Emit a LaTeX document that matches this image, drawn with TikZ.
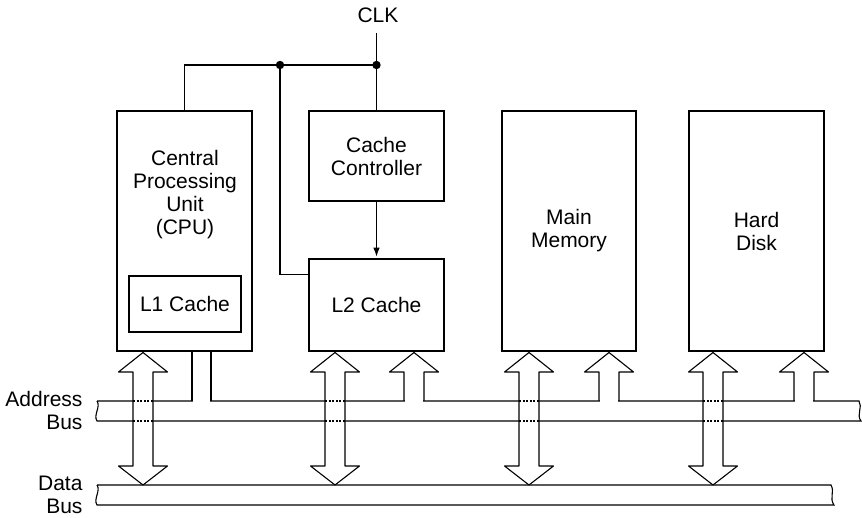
\documentclass[tikz,border=0pt]{standalone}
\usepackage{fontspec}
\setmainfont{Liberation Sans}
\usetikzlibrary{arrows.meta}

\begin{document}
\begin{tikzpicture}[x=1pt,y=-1pt,
  unit/.style={draw, line width=2.6pt, inner sep=0pt},
  txt/.style={align=center, font=\fontsize{21}{23}\selectfont},
  wire/.style={line width=1.1pt},
  fat/.style={line width=1.1pt, fill=white, line join=round},
  dots/.style={line width=1.1pt, dash pattern=on 2pt off 1.6pt}]
        \useasboundingbox (0,0) rectangle (862,518);
        % units
        \node[unit, minimum width=135, minimum height=240] (cpu) at (184.5,231) {};
        \node[txt] (cpulbl) at (185,194.5) {Central\\Processing\\Unit\\(CPU)};
        \node[unit, txt, minimum width=112, minimum height=56] (lone) at (185,304) {L1 Cache};
        \node[unit, txt, minimum width=135, minimum height=90] (ctrl) at (376.5,156) {Cache\\Controller};
        \node[unit, txt, minimum width=135, minimum height=92] (ltwo) at (376.5,305) {L2 Cache};
        \node[unit, txt, minimum width=134, minimum height=240] (mem) at (569,231) {Main\\Memory};
        \node[unit, txt, minimum width=135, minimum height=240] (disk) at (756.5,231) {Hard\\Disk};
        % clock lines
        \node[txt] (clk) at (378,15) {CLK};
        \coordinate (clkin) at (376.5,33);
        \coordinate (tap) at (376.5,65);
        \coordinate (tapl) at (280,65);
        \draw[wire] (clkin) -- (tap) -- (ctrl.north);
        \draw[wire] (tap) -- (tapl) -| (cpu.north);
        \draw[wire] (tapl) |- ([yshift=-17pt]ltwo.north west);
        \fill (tap) circle (4.2) (tapl) circle (4.2);
        \draw[wire, -{Latex[length=9pt,width=6.5pt]}, shorten >=1pt] (ctrl) -- (ltwo);
        % buses
        \node[txt, align=right, anchor=east] (abus) at (86,410) {Address\\Bus};
        \node[txt, align=right, anchor=east] (dbus) at (86,495) {Data\\Bus};
        \draw[wire] (97,401) -- (859,401) .. controls (863,407) and (856,415) .. (861,421) -- (97,421) .. controls (93,415) and (101,407) .. (97,401);
        \draw[wire] (97,485) -- (831,485) .. controls (835,492) and (829,498) .. (834,505) -- (97,505) .. controls (93,499) and (101,491) .. (97,485);
        % CPU drives the address bus
        \fill[white] (192.7,398) rectangle (210.3,403);
        \draw[wire] (192,401) -- (192,352.5) (211,352.5) -- (211,401);
        % into the units from the address bus
        \foreach \x in {414,609,804} {
          \fill[white] (\x-9.3,398) rectangle (\x+9.3,403);
          \draw[fat, fill=none] (\x-10,401) -- (\x-10,372) -- (\x-24.5,372) -- (\x,352.5) -- (\x+24.5,372) -- (\x+10,372) -- (\x+10,401);
        }
        % both ways on the data bus
        \foreach \x in {143,335,529,713} {
          \draw[fat] (\x,352.5) -- (\x+24.5,372) -- (\x+10,372) -- (\x+10,466) -- (\x+24.5,466) -- (\x,485) -- (\x-24.5,466) -- (\x-10,466) -- (\x-10,372) -- (\x-24.5,372) -- cycle;
          \draw[dots] (\x-10,401) -- (\x+10,401) (\x-10,421) -- (\x+10,421);
        }
    \end{tikzpicture}
\end{document}
